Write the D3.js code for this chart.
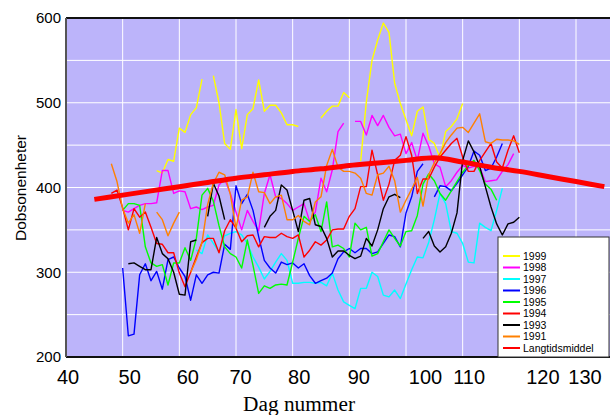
<!DOCTYPE html>
<html>
<head>
<meta charset="utf-8">
<script src="https://cdn.jsdelivr.net/npm/d3@7"></script>
<style>
  body { margin: 0; background: #fff; }
  svg { display: block; }
</style>
</head>
<body>
<div id="chart"></div>
<script>
// daily ozone values, one array per year, starting at the given day number
var start1999 = 56;
var vals1999 = [420, 417, 433, 431, 470, 465, 486, 494, 528, null,
  532, 500, 452, 445, 492, 446, 486, 493, 527, 490,
  497, 497, 488, 474, 474, 472, null, null, null, 482,
  490, 496, 496, 512, 506, null, 431, 501, 550, 574,
  594, 583, 523, 499, 480, 461, 490, 495, 457, 452,
  435, 466, 472, 481, 499];

var start1998 = 50;
var vals1998 = [373, 371, 375, 379, 381, 381, 382, 420, 420, 393,
  396, 395, 375, 377, 374, 377, 379, 403, 410, 393,
  371, 350, 373, 360, 349, 393, 415, 389, 387, 381,
  373, 377, 381, 360, 371, 411, 395, 421, 466, 476,
  null, 478, 478, 462, 485, 473, 485, 471, 461, 463,
  440, 453, 432, 464, 449, 428, 424, 401, 408, 418,
  426, 423, 425, 424, 407, 408, 409, 419, 427, 440];

var start1997 = 63;
var vals1997 = [326, 322, 344, 334, 324, 343, 346,
  348, 344, 334, 318, 306, 292, 301, 312, 322, 314,
  287, 287, 288, 288, 287, 288, 284, 299, 279, 265,
  261, 257, 281, 281, 300, 295, 273, 271, 279, 269,
  286, 303, 318, 317, 335, 362, 393, 381, 348, 346,
  334, 312, 311, 358, 353, 349, 373, 399];

var start1996 = 50;
var vals1996 = [305, 225, 227, 297, 310, 290, 301, 280, 315, 318,
  305, 295, 267, 297, 287, 297, 300, 299, 333, 327,
  402, 381, 392, 373, 342, 314, 305, 299, 312, 309,
  311, 305, 310, 296, 287, 290, 293, 299, 316, 324,
  328, 323, 328, 328, 322, 324, 334, 344, 342, 330,
  370, 389, 419, 428, null, 389, 402, 401, 396, 405,
  415, 425, 443, 438, 420, 423, 436, 452];

var start1995 = 50;
var vals1995 = [373, 381, 381, 379, 330, 311, 307, 309, 285, 311,
  311, 329, 314, 340, 391, 399, 384, 355, 330, 322,
  318, 305, 338, 308, 275, 284, 281, 285, 286, 285,
  312, 340, 366, 360, 368, 348, 383, 330, 332, 328,
  318, 358, 350, 353, 319, 322, 336, 350, 340, 331,
  348, 349, 367, 404, 416, 408, 393, 385, 396, 407,
  418, 426, 432, 420, 404, 398, 385];

var start1994 = 48;
var vals1994 = [393, 397,
  376, 350, 375, 365, 371, 353, 334, 333, 323, 323,
  299, 283, 300, 318, 335, 340, 340, 323, 349, 362,
  352, 336, 343, 344, 330, 342, 341, 341, 346, 342,
  340, 344, 318, 326, 336, 332, 338, 350, 351, 351,
  366, 375, 401, 401, 444, 415, 385, 404, 432, 438,
  460, 438, 393, 410, 410, 424, 436, 444, 452, 458,
  436, 419, 419, 432, 442, 452, 430, 423, 444, 461, 441];

var start1993 = 51;
var vals1993 = [310, 311, 307, 303, 303, 341, 322, 316, 300,
  274, 273, 336, 338, null, 366, 405, 390, 362, null,
  null, null, null, null, null, 353, 366, 373, 403, 397,
  373, 348, 385, 387, 356, 354, 340, 318, 325, 325,
  320, 316, 319, 340, 331, 350, 375, 389, 392, 388,
  null, null, null, 340, 348, 331, 324, 330, 346, 370,
  432, 455, 442, 425, 401, 377, 357, 344, 357, 359, 365];

var start1991 = 48;
var vals1991 = [428, 407,
  375, 358, 368, 346, 381, null, 371, 362, 343, 358,
  371, null, 300, 315, 335, 380, 405, 418, 415, 392,
  352, 385, 389, 418, 395, 394, 381, 389, 391, 362,
  362, 367, 360, 356, 383, 389, 426, 445, 424, 419,
  419, 417, 411, 393, 391, 415, 417, 425, 408, 371,
  385, 398, 412, 378, 415, 429, 440, 453, 462, 470,
  471, 465, 476, 487, 454, 452, 457, 456, 456, 455, 451];

// long term mean
var meanDays = [45, 50, 55, 60, 65, 70, 75, 80, 85, 90, 95, 100, 105, 110, 115, 120, 125, 130, 135];
var meanVals = [386, 391, 396, 401, 406, 411, 415, 419, 422, 426, 429, 432, 435, 430, 424, 419, 413, 407, 401];

var xTicks = [40, 50, 60, 70, 80, 90, 100, 110, 120, 130];
var yTicks = [200, 300, 400, 500, 600];

var series = [
  {name: "1999", color: "#ffff00", start: start1999, values: vals1999},
  {name: "1998", color: "#ff00ff", start: start1998, values: vals1998},
  {name: "1997", color: "#00ffff", start: start1997, values: vals1997},
  {name: "1996", color: "#0000ff", start: start1996, values: vals1996},
  {name: "1995", color: "#00ff00", start: start1995, values: vals1995},
  {name: "1994", color: "#ff0000", start: start1994, values: vals1994},
  {name: "1993", color: "#000000", start: start1993, values: vals1993},
  {name: "1991", color: "#ff8000", start: start1991, values: vals1991}
];

var W = 611, H = 415;
var plot = {left: 66, top: 18, right: 610, bottom: 357};

var svg = d3.select("#chart").append("svg")
  .attr("width", W)
  .attr("height", H);

var x = d3.scaleLinear().domain([40, 136]).range([plot.left, plot.right]);
var y = d3.scaleLinear().domain([200, 600]).range([plot.bottom, plot.top]);

//plot background
svg.append("rect")
  .attr("x", plot.left).attr("y", plot.top)
  .attr("width", plot.right - plot.left)
  .attr("height", plot.bottom - plot.top)
  .style("fill", "#bcb4fa");

svg.append("clipPath").attr("id", "clip")
  .append("rect")
  .attr("x", plot.left).attr("y", plot.top)
  .attr("width", plot.right - plot.left)
  .attr("height", plot.bottom - plot.top);

//grid
svg.append("g").selectAll("line")
  .data(d3.range(50, 136, 10))
  .enter().append("line")
  .attr("x1", function(d) { return x(d); })
  .attr("x2", function(d) { return x(d); })
  .attr("y1", plot.top).attr("y2", plot.bottom)
  .style("stroke", "#ffffff").style("stroke-width", 1);
svg.append("g").selectAll("line")
  .data(d3.range(250, 600, 50))
  .enter().append("line")
  .attr("y1", function(d) { return y(d); })
  .attr("y2", function(d) { return y(d); })
  .attr("x1", plot.left).attr("x2", plot.right)
  .style("stroke", "#ffffff").style("stroke-width", 1);

//year lines
var line = d3.line()
  .defined(function(p) { return p.v != null; })
  .x(function(p) { return x(p.d); })
  .y(function(p) { return y(p.v); });

var lines = svg.append("g").attr("clip-path", "url(#clip)");
series.forEach(function(s) {
  var pts = s.values.map(function(v, i) { return {d: s.start + i, v: v}; });
  lines.append("path")
    .datum(pts)
    .attr("d", line)
    .style("fill", "none")
    .style("stroke", s.color)
    .style("stroke-width", 1.4)
    .style("stroke-linejoin", "round");
});

//long term mean on top
var meanLine = d3.line()
  .curve(d3.curveMonotoneX)
  .x(function(p) { return x(p.d); })
  .y(function(p) { return y(p.v); });
lines.append("path")
  .datum(meanDays.map(function(d, i) { return {d: d, v: meanVals[i]}; }))
  .attr("d", meanLine)
  .style("fill", "none")
  .style("stroke", "#ff0000")
  .style("stroke-width", 5);

//frame
svg.append("line")
  .attr("x1", plot.left).attr("x2", plot.right)
  .attr("y1", plot.top).attr("y2", plot.top)
  .style("stroke", "#111").style("stroke-width", 2);
svg.append("line")
  .attr("x1", plot.left).attr("x2", plot.right)
  .attr("y1", plot.bottom).attr("y2", plot.bottom)
  .style("stroke", "#111").style("stroke-width", 2);
svg.append("line")
  .attr("x1", plot.left).attr("x2", plot.left)
  .attr("y1", plot.top).attr("y2", plot.bottom)
  .style("stroke", "#555").style("stroke-width", 2);

//axes
var yAxis = svg.append("g")
  .attr("transform", "translate(" + (plot.left - 1) + ",0)")
  .call(d3.axisLeft(y).tickValues(yTicks).tickSize(0).tickPadding(4));
yAxis.select(".domain").remove();
yAxis.selectAll("text")
  .style("font-family", "Liberation Sans, Arial, sans-serif")
  .style("font-size", "15px")
  .style("fill", "#000");

// label offsets as placed in the original
var xNudge = {40: 1.5, 50: 6.5, 60: 8, 70: 4, 80: 6, 90: 9, 100: 19, 110: 6, 120: 23, 130: 8.5};
var xAxis = svg.append("g")
  .attr("transform", "translate(0," + plot.bottom + ")")
  .call(d3.axisBottom(x).tickValues(xTicks).tickSize(0).tickPadding(13));
xAxis.select(".domain").remove();
xAxis.selectAll("text")
  .attr("dx", function(d) { return xNudge[d]; })
  .style("font-family", "Liberation Sans, Arial, sans-serif")
  .style("font-size", "20px")
  .style("fill", "#000");

//axis titles
svg.append("text")
  .text("Dag nummer")
  .attr("x", 299).attr("y", 411)
  .attr("text-anchor", "middle")
  .attr("textLength", 112)
  .attr("lengthAdjust", "spacingAndGlyphs")
  .style("font-family", "Liberation Serif, Times New Roman, serif")
  .style("font-size", "20px");

svg.append("text")
  .text("Dobsonenheter")
  .attr("transform", "translate(26,188) rotate(-90)")
  .attr("text-anchor", "middle")
  .style("font-family", "Liberation Sans, Arial, sans-serif")
  .style("font-size", "15.5px");

//legend
var legend = svg.append("g");
var leg = {x: 498, y: 237, w: 111, h: 120};
legend.append("rect")
  .attr("x", leg.x).attr("y", leg.y)
  .attr("width", leg.w).attr("height", leg.h)
  .style("fill", "#fff")
  .style("stroke", "#333")
  .style("stroke-width", 1);
var legItems = series.map(function(s) { return {name: s.name, color: s.color}; })
  .concat([{name: "Langtidsmiddel", color: "#ff0000"}]);
legItems.forEach(function(it, i) {
  var ly = leg.y + 19 + i * 11.5;
  legend.append("line")
    .attr("x1", leg.x + 5).attr("x2", leg.x + 22)
    .attr("y1", ly).attr("y2", ly)
    .style("stroke", it.color).style("stroke-width", 2);
  legend.append("text")
    .text(it.name)
    .attr("x", leg.x + 25).attr("y", ly)
    .attr("dy", "0.36em")
    .style("font-family", "Liberation Sans, Arial, sans-serif")
    .style("font-size", "10.5px");
});
</script>
</body>
</html>
